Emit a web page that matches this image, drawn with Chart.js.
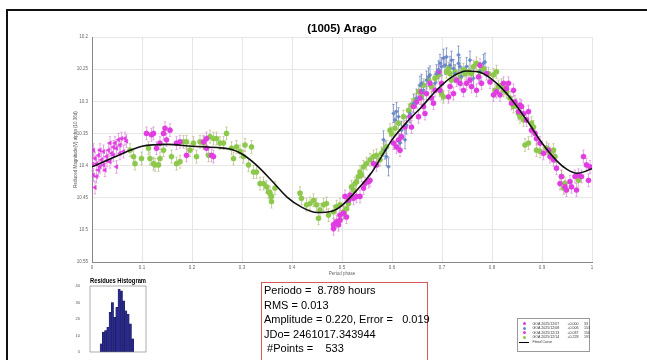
<!DOCTYPE html>
<html>
<head>
<meta charset="utf-8">
<title>(1005) Arago</title>
<script src="https://cdn.jsdelivr.net/npm/chart.js@4.4.0/dist/chart.umd.min.js"></script>
<style>
  body { margin: 0; width: 647px; height: 360px; overflow: hidden; background: #fff; position: relative;
         font-family: "Liberation Sans", Arial, sans-serif; }
  #frame { position: absolute; left: 6px; top: 9px; width: 720px; height: 420px; border: 2px solid #111; box-sizing: border-box; }
  #main { position: absolute; left: 0; top: 0; }
  #hist { position: absolute; left: 60px; top: 274px; }
  #stats { position: absolute; left: 261px; top: 282px; width: 167px; height: 90px; box-sizing: border-box;
           border: 1.5px solid #d65a5a; padding: 0 0 0 2px; font-size: 11px; line-height: 14.6px; color: #000; white-space: pre; }
  #legend { position: absolute; left: 517px; top: 318px; width: 73px; height: 34px; box-sizing: border-box;
            border: 0.8px solid #999; padding-top: 2.5px; font-size: 3.6px; line-height: 4.5px; color: #333; }
  #legend .row { position: relative; height: 4.5px; white-space: nowrap; }
  #legend .row span { position: absolute; top: 0; }
  #legend .mk { left: 4.5px; top: 0.6px !important; width: 3px; height: 3px; border-radius: 50%; }
  #legend .ln { left: 1px; top: 2px !important; width: 10px; height: 0; border-top: 1px solid #000; }
</style>
</head>
<body>
<div id="frame"></div>
<canvas id="main" width="647" height="285"></canvas>
<canvas id="hist" width="100" height="86"></canvas>
<div id="stats"></div>
<div id="legend"></div>

<script>
// axis ticks
const xTicks = [0, 0.1, 0.2, 0.3, 0.4, 0.5, 0.6, 0.7, 0.8, 0.9, 1];
const yTicks = [10.2, 10.25, 10.3, 10.35, 10.4, 10.45, 10.5, 10.55];

// sessions (legend)
const seriesNames = ['GOA 2025/12/07', 'GOA 2025/12/08', 'GOA 2025/12/13', 'GOA 2025/12/14'];
const seriesOffsets = ['+0.000', '+0.006', '+0.037', '+0.228'];
const seriesCounts = [33, 153, 156, 191];
const seriesErr = [0.010, 0.014, 0.010, 0.010];

// [phase, reduced magnitude]
const goa1207 = [[0.003,10.376],[0.006,10.389],[0.009,10.397],[0.013,10.384],[0.016,10.402],[0.019,10.391],[0.023,10.378],
  [0.026,10.407],[0.029,10.386],[0.033,10.376],[0.036,10.394],[0.039,10.381],[0.043,10.371],[0.046,10.365],[0.049,10.373],
  [0.053,10.360],[0.056,10.368],[0.059,10.358],[0.063,10.378],[0.049,10.402],[0.003,10.415],[0.006,10.434],[0.009,10.417],
  [0.013,10.407],[0.023,10.399],[0.043,10.384],[0.056,10.381],[0.066,10.358],[0.036,10.365],[0.016,10.376],[0.069,10.362],
  [0.001,10.398],[0.030,10.392]];

const goa1208 = [[0.583,10.360],[0.586,10.376],[0.589,10.386],[0.593,10.402],[0.603,10.319],[0.606,10.329],[0.609,10.316],
  [0.613,10.324],[0.616,10.365],[0.619,10.345],[0.626,10.360],[0.629,10.337],[0.636,10.319],[0.643,10.303],[0.649,10.295],
  [0.656,10.275],[0.659,10.272],[0.663,10.283],[0.669,10.267],[0.673,10.262],[0.676,10.259],[0.686,10.272],[0.689,10.257],
  [0.693,10.251],[0.696,10.241],[0.699,10.246],[0.703,10.233],[0.706,10.244],[0.709,10.231],[0.716,10.244],[0.719,10.236],
  [0.723,10.249],[0.726,10.257],[0.733,10.228],[0.733,10.241],[0.736,10.246],[0.739,10.262],[0.749,10.246],[0.756,10.236],
  [0.763,10.264],[0.776,10.254],[0.783,10.241],[0.786,10.239]];

const goa1213 = [[0.109,10.350],[0.119,10.352],[0.123,10.350],[0.143,10.350],[0.146,10.342],[0.156,10.345],[0.136,10.365],
  [0.129,10.373],[0.149,10.360],[0.169,10.365],[0.176,10.363],[0.189,10.384],[0.229,10.358],[0.223,10.363],[0.239,10.384],
  [0.243,10.386],[0.229,10.373],
  [0.483,10.498],[0.489,10.487],[0.496,10.477],[0.496,10.485],[0.503,10.474],[0.506,10.448],[0.509,10.480],[0.513,10.454],
  [0.516,10.446],[0.523,10.451],[0.529,10.448],[0.536,10.448],[0.543,10.435],[0.546,10.428],[0.553,10.425],[0.556,10.423],
  [0.563,10.397],[0.569,10.399],[0.483,10.492],[0.493,10.492],
  [0.603,10.365],[0.609,10.371],[0.613,10.360],[0.616,10.376],[0.619,10.355],[0.626,10.340],[0.636,10.324],[0.639,10.340],
  [0.643,10.308],[0.649,10.301],[0.653,10.324],[0.656,10.295],[0.659,10.285],[0.663,10.308],[0.666,10.319],[0.669,10.288],
  [0.676,10.272],[0.679,10.295],[0.683,10.303],[0.686,10.283],[0.693,10.254],[0.696,10.283],[0.699,10.272],[0.713,10.293],
  [0.716,10.277],[0.723,10.288],[0.729,10.267],[0.736,10.272],[0.743,10.283],[0.749,10.272],[0.756,10.267],[0.759,10.277],
  [0.769,10.283],[0.773,10.262],[0.776,10.244],[0.779,10.272],[0.789,10.257],[0.796,10.270],[0.803,10.290],[0.809,10.285],
  [0.816,10.290],[0.823,10.272],[0.829,10.280],[0.833,10.272],[0.839,10.303],[0.843,10.283],[0.846,10.301],[0.853,10.316],
  [0.856,10.306],[0.859,10.308],[0.863,10.319],[0.869,10.329],[0.873,10.316],[0.879,10.345],[0.886,10.350],[0.889,10.358],
  [0.896,10.365],[0.903,10.381],[0.913,10.376],[0.916,10.386],[0.923,10.391],[0.929,10.404],[0.936,10.428],[0.939,10.417],
  [0.946,10.433],[0.949,10.438],[0.956,10.425],[0.959,10.433],[0.966,10.417],[0.969,10.438],[0.973,10.415],[0.979,10.417],
  [0.983,10.386],[0.989,10.399],[0.993,10.423],[0.996,10.402]];

const goa1214 = [[0.076,10.376],[0.083,10.386],[0.086,10.397],[0.099,10.389],[0.113,10.373],[0.116,10.389],[0.123,10.397],
  [0.126,10.399],[0.133,10.399],[0.136,10.389],[0.143,10.376],[0.159,10.386],[0.169,10.397],[0.176,10.394],[0.183,10.363],
  [0.189,10.363],[0.196,10.376],[0.203,10.365],[0.209,10.386],[0.216,10.363],[0.223,10.365],[0.233,10.384],[0.236,10.355],
  [0.243,10.358],[0.249,10.358],[0.256,10.365],[0.269,10.350],[0.263,10.365],[0.279,10.373],[0.283,10.389],[0.289,10.371],
  [0.296,10.378],[0.303,10.386],[0.306,10.368],[0.313,10.399],[0.319,10.371],[0.323,10.410],[0.329,10.410],[0.336,10.428],
  [0.343,10.428],[0.349,10.433],[0.356,10.443],[0.359,10.448],[0.366,10.435],[0.353,10.441],[0.359,10.456],
  [0.416,10.443],[0.419,10.451],[0.429,10.461],[0.436,10.459],[0.443,10.454],[0.449,10.461],[0.456,10.469],[0.453,10.482],
  [0.463,10.461],[0.469,10.459],[0.473,10.477],[0.483,10.472],[0.489,10.464],[0.496,10.461],[0.503,10.472],[0.509,10.467],
  [0.513,10.459],[0.516,10.451],[0.523,10.438],[0.526,10.428],[0.533,10.417],[0.536,10.410],[0.543,10.402],[0.549,10.397],
  [0.556,10.391],[0.563,10.386],[0.569,10.384],[0.519,10.433],[0.529,10.425],[0.539,10.415],
  [0.576,10.391],[0.579,10.381],[0.583,10.376],[0.589,10.371],[0.596,10.345],[0.599,10.350],[0.606,10.342],[0.613,10.334],
  [0.623,10.324],[0.633,10.314],[0.639,10.306],[0.646,10.298],[0.653,10.285],[0.659,10.293],[0.663,10.275],[0.673,10.267],
  [0.679,10.277],[0.686,10.264],[0.693,10.259],[0.699,10.288],[0.703,10.293],[0.709,10.254],[0.713,10.249],[0.716,10.257],
  [0.719,10.267],[0.726,10.254],[0.736,10.262],[0.743,10.251],[0.746,10.257],[0.753,10.254],[0.759,10.257],[0.763,10.246],
  [0.769,10.241],[0.776,10.254],[0.783,10.249],[0.793,10.257],[0.803,10.259],[0.806,10.283],[0.809,10.254],[0.813,10.277],
  [0.819,10.275],[0.823,10.283],[0.826,10.280],[0.829,10.285],[0.836,10.295],[0.843,10.308],[0.849,10.306],[0.853,10.319],
  [0.856,10.324],[0.863,10.329],[0.866,10.368],[0.873,10.365],[0.879,10.334],[0.883,10.340],[0.889,10.376],[0.896,10.378],
  [0.909,10.373],[0.916,10.381],[0.923,10.376],[0.926,10.386],[0.939,10.417],[0.943,10.435],[0.946,10.428],[0.973,10.423]];

// fitted curve
const fitPhase = [0, 0.05, 0.1, 0.15, 0.2, 0.25, 0.28, 0.3, 0.33, 0.36, 0.39, 0.42, 0.45, 0.48, 0.5, 0.53, 0.56, 0.58,
  0.6, 0.63, 0.66, 0.69, 0.72, 0.75, 0.78, 0.8, 0.82, 0.84, 0.87, 0.9, 0.93, 0.95, 0.97, 1];
const fitMag = [10.402, 10.385, 10.370, 10.367, 10.370, 10.372, 10.375, 10.382, 10.400, 10.424, 10.449, 10.465, 10.473,
  10.471, 10.462, 10.438, 10.410, 10.385, 10.360, 10.332, 10.308, 10.282, 10.262, 10.253, 10.256, 10.266, 10.280, 10.298,
  10.330, 10.365, 10.393, 10.406, 10.412, 10.405];

// residues histogram
const histCenters = [-0.030, -0.026, -0.022, -0.018, -0.014, -0.010, -0.006, -0.002, 0.002, 0.006, 0.010, 0.014, 0.018, 0.022, 0.026];
const histCounts = [5, 12, 13, 15, 24, 30, 21, 27, 38, 37, 31, 25, 23, 17, 8];
const histXTicks = [-0.05, 0, 0.05];
const histYTicks = [0, 10, 20, 30, 40];

const statsLines = ['Periodo =  8.789 hours', 'RMS = 0.013', 'Amplitude = 0.220, Error =   0.019', 'JDo= 2461017.343944', ' #Points =    533'];

const colors = ['#e03ce0', '#6a88c8', '#e03ce0', '#8cc84a'];
const errColors = ['rgba(215,120,215,0.85)', 'rgba(90,115,185,0.9)', 'rgba(215,120,215,0.85)', 'rgba(175,175,115,0.85)'];
const toXY = (arr) => arr.map(([x, y]) => ({ x, y }));

// vertical error bars under the markers
const errorBars = {
  id: 'errorBars',
  beforeDatasetsDraw(chart) {
    const { ctx, scales: { x, y } } = chart;
    chart.data.datasets.forEach((ds) => {
      if (!ds.err) return;
      ctx.save();
      ctx.strokeStyle = ds.errColor;
      ctx.lineWidth = 0.7;
      ds.data.forEach((p) => {
        const px = x.getPixelForValue(p.x);
        const y1 = y.getPixelForValue(p.y - ds.err);
        const y2 = y.getPixelForValue(p.y + ds.err);
        ctx.beginPath();
        ctx.moveTo(px, y1); ctx.lineTo(px, y2);
        ctx.moveTo(px - 1.2, y1); ctx.lineTo(px + 1.2, y1);
        ctx.moveTo(px - 1.2, y2); ctx.lineTo(px + 1.2, y2);
        ctx.stroke();
      });
      ctx.restore();
    });
  }
};

const sessions = [goa1207, goa1208, goa1213, goa1214];
const pointStyles = ['triangle', 'rectRot', 'circle', 'circle'];

const datasets = [{
  label: 'Fitted Curve',
  type: 'line',
  data: fitPhase.map((p, i) => ({ x: p, y: fitMag[i] })),
  borderColor: '#111',
  borderWidth: 1.6,
  pointRadius: 0,
  cubicInterpolationMode: 'monotone',
  fill: false
}];
sessions.forEach((s, i) => {
  datasets.push({
    label: seriesNames[i],
    type: 'scatter',
    data: toXY(s),
    backgroundColor: colors[i],
    borderColor: colors[i],
    borderWidth: 0.4,
    pointStyle: pointStyles[i],
    pointRotation: i === 0 ? -90 : 0,
    pointRadius: i === 1 ? 2 : 2.6,
    err: seriesErr[i],
    errColor: errColors[i]
  });
});

const tickFont = { family: 'Liberation Sans', size: 4.5 };

new Chart(document.getElementById('main'), {
  type: 'scatter',
  data: { datasets },
  options: {
    responsive: false,
    animation: false,
    layout: { padding: { left: 68, right: 55, top: 0, bottom: 0 } },
    plugins: {
      legend: { display: false },
      tooltip: { enabled: false },
      title: {
        display: true, text: '(1005) Arago', fullSize: false, color: '#000',
        font: { family: 'Liberation Sans', size: 11.5, weight: 'bold' },
        padding: { top: 21.5, bottom: 1.7 }
      }
    },
    scales: {
      x: {
        type: 'linear', min: 0, max: 1,
        afterFit: (s) => { s.height = 23; },
        afterBuildTicks: (s) => { s.ticks = xTicks.map((v) => ({ value: v })); },
        ticks: { font: tickFont, color: '#666', padding: 3, maxRotation: 0, callback: (v) => String(v) },
        grid: { color: '#e6e6e6', drawTicks: false },
        border: { color: '#888' },
        title: { display: true, text: 'Period phase', color: '#666', font: tickFont, padding: { top: 0, bottom: 8.3 } }
      },
      y: {
        type: 'linear', min: 10.2, max: 10.55, reverse: true,
        afterFit: (s) => { s.width = 24; },
        afterBuildTicks: (s) => { s.ticks = yTicks.map((v) => ({ value: v })); },
        ticks: { font: tickFont, color: '#666', padding: 4, callback: (v) => String(v) },
        grid: { color: '#e6e6e6', drawTicks: false },
        border: { color: '#888' },
        title: { display: true, text: 'Reduced Magnitude(V) alpha (10.36d)', color: '#555', font: tickFont, padding: { top: 5, bottom: 0 } }
      }
    }
  },
  plugins: [errorBars]
});

// box around histogram axes
const axesBox = {
  id: 'axesBox',
  afterDraw(chart) {
    const { ctx, chartArea: a } = chart;
    ctx.save();
    ctx.strokeStyle = '#777';
    ctx.lineWidth = 0.6;
    ctx.strokeRect(a.left, a.top, a.right - a.left, a.bottom - a.top);
    ctx.restore();
  }
};

const smallFont = { family: 'Liberation Sans', size: 4 };

new Chart(document.getElementById('hist'), {
  type: 'bar',
  data: {
    datasets: [{
      data: histCenters.map((c, i) => ({ x: c, y: histCounts[i] })),
      backgroundColor: '#2a2a8c',
      borderColor: '#14144a',
      borderWidth: 0.4,
      barPercentage: 1,
      categoryPercentage: 1
    }]
  },
  options: {
    responsive: false,
    animation: false,
    layout: { padding: { left: 15, right: 14, top: 0, bottom: 0 } },
    plugins: {
      legend: { display: false },
      tooltip: { enabled: false },
      title: {
        display: true, text: 'Residues Histogram', fullSize: false, color: '#000',
        font: { family: 'Liberation Sans', size: 7, weight: 'bold' },
        padding: { top: 2.8, bottom: 0.8 }
      }
    },
    scales: {
      x: {
        type: 'linear', min: -0.05, max: 0.05, offset: false,
        afterFit: (s) => { s.height = 8; },
        afterBuildTicks: (s) => { s.ticks = histXTicks.map((v) => ({ value: v })); },
        ticks: { font: smallFont, color: '#555', padding: 2, maxRotation: 0, callback: (v) => String(v) },
        grid: { display: false },
        border: { display: false }
      },
      y: {
        min: 0, max: 40,
        afterFit: (s) => { s.width = 15; },
        afterBuildTicks: (s) => { s.ticks = histYTicks.map((v) => ({ value: v })); },
        ticks: { font: smallFont, color: '#555', padding: 2 },
        grid: { display: false },
        border: { display: false }
      }
    }
  },
  plugins: [axesBox]
});

// stats box
document.getElementById('stats').textContent = statsLines.join('\n');

// legend
const legend = document.getElementById('legend');
seriesNames.forEach((name, i) => {
  const row = document.createElement('div');
  row.className = 'row';
  row.innerHTML = `<span class="mk" style="background:${colors[i]}"></span>` +
    `<span style="left:14.5px">${name}</span>` +
    `<span style="left:49.5px">${seriesOffsets[i]}</span>` +
    `<span style="left:66px">${seriesCounts[i]}</span>`;
  legend.appendChild(row);
});
const fitRow = document.createElement('div');
fitRow.className = 'row';
fitRow.innerHTML = '<span class="ln"></span><span style="left:14.5px">Fitted Curve</span>';
legend.appendChild(fitRow);
</script>
</body>
</html>
